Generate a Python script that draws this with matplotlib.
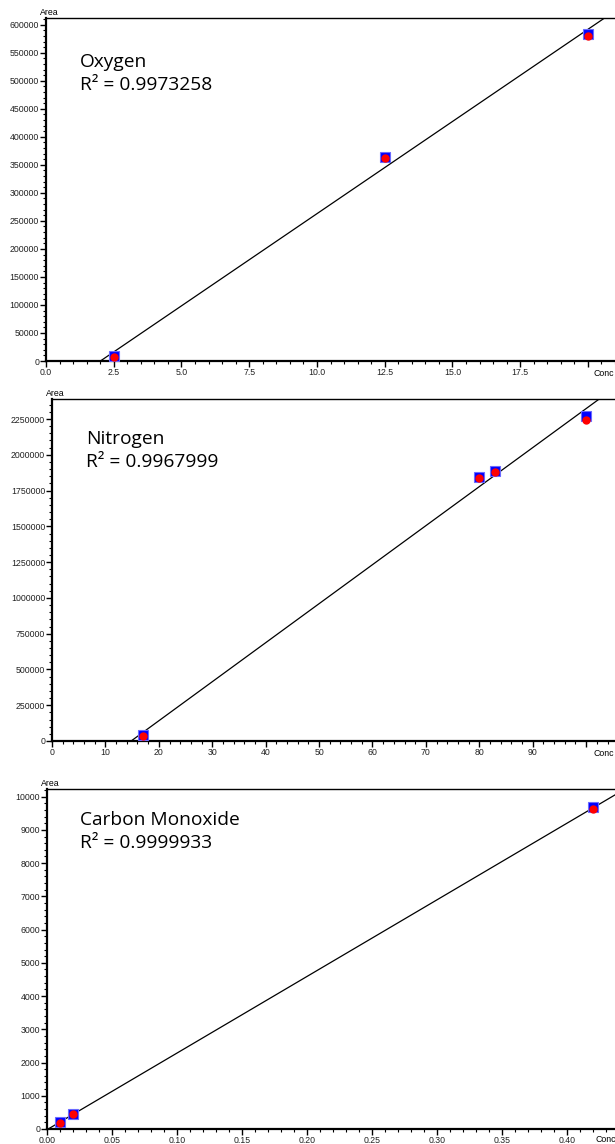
import matplotlib
matplotlib.use('Agg')
import matplotlib.pyplot as plt
from matplotlib.ticker import MultipleLocator, AutoMinorLocator, FixedLocator, FixedFormatter
import numpy as np

# calibration data
o2_conc = [2.5, 12.5, 20.0]
o2_area_a = [9000, 364000, 583000]
o2_area_b = [8000, 362000, 580000]

n2_conc = [17, 80, 83, 100]
n2_area_a = [41000, 1845000, 1885000, 2268000]
n2_area_b = [38000, 1840000, 1878000, 2245000]

co_conc = [0.01, 0.02, 0.42]
co_area_a = [200, 460, 9700]
co_area_b = [190, 450, 9620]

names = ['Oxygen', 'Nitrogen', 'Carbon Monoxide']
r2_text = ['0.9973258', '0.9967999', '0.9999933']

W, H = 615, 1144
fig = plt.figure(figsize=(W / 100, H / 100), dpi=100)

tick_font = dict(family='Liberation Sans', size=6.3)

def px_axes(left, top, bottom):
    return fig.add_axes([left / W, 1 - bottom / H, 1 - left / W, (bottom - top) / H])

# x ticks: the last major tick before the edge carries no number ("Conc" sits there)
panels = [
    dict(ax=px_axes(46, 18, 361), x=o2_conc, a=o2_area_a, b=o2_area_b,
         xlim=(0, 21.0), ylim=(0, 612000), xstep=2.5, ystep=50000,
         xlabels=[f'{v:.1f}' for v in np.arange(0, 17.51, 2.5)], ymax_tick=600000,
         txt=(80, 62), conc_x=594, conc_dy=-5.5),
    dict(ax=px_axes(52, 399, 741), x=n2_conc, a=n2_area_a, b=n2_area_b,
         xlim=(0, 105.4), ylim=(0, 2390000), xstep=10, ystep=250000,
         xlabels=[f'{v:.0f}' for v in np.arange(0, 90.1, 10)], ymax_tick=2250000,
         txt=(86, 439), conc_x=594, conc_dy=-5.5),
    dict(ax=px_axes(47, 789, 1129), x=co_conc, a=co_area_a, b=co_area_b,
         xlim=(0, 0.437), ylim=(0, 10230), xstep=0.05, ystep=1000,
         xlabels=[f'{v:.2f}' for v in np.arange(0, 0.401, 0.05)], ymax_tick=10000,
         txt=(80, 820), conc_x=596, conc_dy=-4.0),
]

for p, name, r2 in zip(panels, names, r2_text):
    ax = p['ax']
    xs = np.array(p['x'] * 2, dtype=float)
    ys = np.array(p['a'] + p['b'], dtype=float)
    slope, inter = np.polyfit(xs, ys, 1)
    x0 = max(-inter / slope, 0)
    xl = np.array([x0, p['xlim'][1] * 1.2])
    ax.plot(xl, slope * xl + inter, color='black', lw=0.9, zorder=2)

    ax.plot(p['x'], p['a'], 's', ms=6.6, mfc='#0000ff', mec='#6a6aff', mew=0.8, zorder=3)
    ax.plot(p['x'], p['b'], 'o', ms=5.0, mfc='#ff0000', mec='#ff0000', zorder=4)

    ax.set_xlim(*p['xlim'])
    ax.set_ylim(*p['ylim'])

    nmaj = len(p['xlabels'])
    xt = [i * p['xstep'] for i in range(nmaj + 1)]
    labels = list(p['xlabels'])
    if xt[-1] <= p['xlim'][1]:
        labels.append('')
    else:
        xt = xt[:-1]
    ax.xaxis.set_major_locator(FixedLocator(xt))
    ax.xaxis.set_major_formatter(FixedFormatter(labels))
    ax.xaxis.set_minor_locator(MultipleLocator(p['xstep'] / 5))

    yt = np.arange(0, p['ymax_tick'] + 1, p['ystep'])
    ax.set_yticks(yt)
    ax.set_yticklabels([f'{int(v)}' for v in yt])
    ax.yaxis.set_minor_locator(AutoMinorLocator(5))

    for lab in ax.get_xticklabels() + ax.get_yticklabels():
        lab.set_fontfamily(tick_font['family'])
        lab.set_fontsize(tick_font['size'])
        lab.set_color('#222222')
    ax.tick_params(which='major', direction='out', length=4, width=1.0, pad=1)
    ax.tick_params(which='minor', direction='out', length=2, width=0.8)

    ax.spines['right'].set_visible(False)
    ax.spines['left'].set_linewidth(1.6)
    ax.spines['bottom'].set_linewidth(1.6)
    ax.spines['top'].set_linewidth(1.0)

    ax.annotate('Area', xy=(0, 1), xycoords='axes fraction', xytext=(-4, 0.5),
                textcoords='offset points', ha='left', va='bottom', **tick_font)
    ax.annotate('Conc', xy=(p['conc_x'] / W, 0), xycoords=('figure fraction', 'axes fraction'),
                xytext=(0, p['conc_dy']), textcoords='offset points', ha='left', va='top',
                **tick_font)

    fig.text(p['txt'][0] / W, 1 - p['txt'][1] / H, name, family='Open Sans', fontsize=13.8,
             va='center', ha='left')
    fig.text(p['txt'][0] / W, 1 - (p['txt'][1] + 23) / H, 'R\u00b2 = ' + r2, family='Open Sans',
             fontsize=13.8, va='center', ha='left')

fig.savefig('out.png', dpi=100)
